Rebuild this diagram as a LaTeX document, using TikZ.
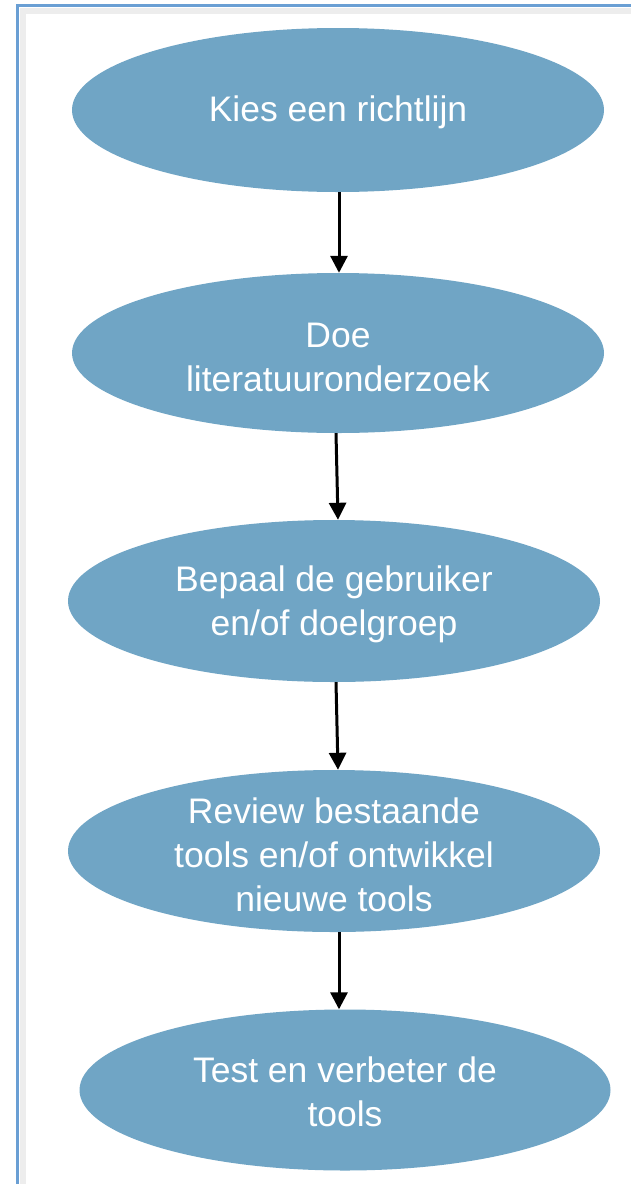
\documentclass[tikz,border=0pt]{standalone}
\usepackage{fontspec}
\setmainfont{Liberation Sans}
\usetikzlibrary{arrows.meta,shapes.geometric}
\definecolor{ellfill}{HTML}{70A5C5}
\definecolor{framecol}{HTML}{6A9FD4}
\tikzset{
  ell/.style={ellipse, fill=ellfill, draw=none, inner sep=0pt, minimum width=532pt, minimum height=162pt},
  lbl/.style={text=white, align=center, inner sep=0pt, font=\fontsize{35.5pt}{44pt}\selectfont},
  flow/.style={draw=black, line width=3pt, -{Triangle[width=17pt,length=17pt]}},
}
\begin{document}
\begin{tikzpicture}[x=1pt,y=-1pt]
\useasboundingbox (0,0) rectangle (631,1184);
\fill[white] (0,0) rectangle (631,1184);
% frame shadow and frame
\draw[line width=6pt, black!7] (23,1184) -- (23,11) -- (631,11);
\draw[line width=3pt, framecol] (17,1184) -- (17,5) -- (631,5);

\node[ell, minimum height=164pt] (e1) at (338,110) {};
\node[ell, minimum height=160pt] (e2) at (338,353) {};
\node[ell] (e3) at (334,601) {};
\node[ell] (e4) at (334,851) {};
\node[ell, minimum width=531pt, minimum height=161pt] (e5) at (345,1090) {};

\node[lbl] (t1) at (338,112) {Kies een richtlijn};
\node[lbl] (t2) at (338,357) {Doe\\literatuuronderzoek};
\node[lbl] (t3) at (334,604) {Bepaal de gebruiker\\en/of doelgroep};
\node[lbl] (t4) at (334,855) {Review bestaande\\tools en/of ontwikkel\\nieuwe tools};
\node[lbl] (t5) at (345,1092) {Test en verbeter de\\tools};

\draw[flow] ([xshift=1pt]e1.south) -- ([xshift=1pt]e2.north);
\draw[flow] ([xshift=-2pt]e2.south) -- ([xshift=4pt]e3.north);
\draw[flow] ([xshift=2pt]e3.south) -- ([xshift=4pt]e4.north);
\draw[flow] ([xshift=5pt]e4.south) -- ([xshift=-6pt]e5.north);
\end{tikzpicture}
\end{document}
